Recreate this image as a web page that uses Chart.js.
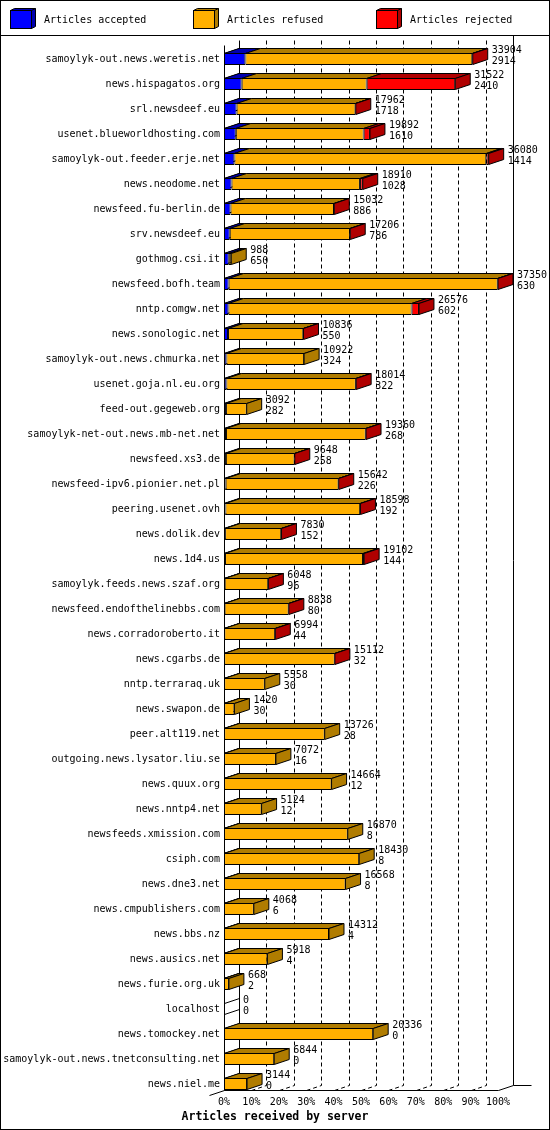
<!DOCTYPE html>
<html>
<head>
<meta charset="utf-8">
<title>Articles received by server</title>
<script src="https://cdn.jsdelivr.net/npm/chart.js@4.4.1/dist/chart.umd.min.js"></script>
<style>
  html, body { margin: 0; padding: 0; background: #fff; }
  canvas { display: block; }
</style>
</head>
<body>
<canvas id="myChart" width="550" height="1130"></canvas>
<script>

// DONNEES //

const servers = [
  'samoylyk-out.news.weretis.net', 'news.hispagatos.org', 'srl.newsdeef.eu',
  'usenet.blueworldhosting.com', 'samoylyk-out.feeder.erje.net', 'news.neodome.net',
  'newsfeed.fu-berlin.de', 'srv.newsdeef.eu', 'gothmog.csi.it', 'newsfeed.bofh.team',
  'nntp.comgw.net', 'news.sonologic.net', 'samoylyk-out.news.chmurka.net',
  'usenet.goja.nl.eu.org', 'feed-out.gegeweb.org', 'samoylyk-net-out.news.mb-net.net',
  'newsfeed.xs3.de', 'newsfeed-ipv6.pionier.net.pl', 'peering.usenet.ovh',
  'news.dolik.dev', 'news.1d4.us', 'samoylyk.feeds.news.szaf.org',
  'newsfeed.endofthelinebbs.com', 'news.corradoroberto.it', 'news.cgarbs.de',
  'nntp.terraraq.uk', 'news.swapon.de', 'peer.alt119.net', 'outgoing.news.lysator.liu.se',
  'news.quux.org', 'news.nntp4.net', 'newsfeeds.xmission.com', 'csiph.com',
  'news.dne3.net', 'news.cmpublishers.com', 'news.bbs.nz', 'news.ausics.net',
  'news.furie.org.uk', 'localhost', 'news.tomockey.net',
  'samoylyk-out.news.tnetconsulting.net', 'news.niel.me'
];

const totals = [
  33904, 31522, 17962, 19892, 36080, 18910, 15032, 17206, 988, 37350,
  26576, 10836, 10922, 18014, 3092, 19360, 9648, 15642, 18598, 7830,
  19102, 6048, 8838, 6994, 15112, 5558, 1420, 13726, 7072, 14664,
  5124, 16870, 18430, 16568, 4068, 14312, 5918, 668, 0, 20336,
  6844, 3144
];

const accepted = [
  2914, 2410, 1718, 1610, 1414, 1028, 886, 786, 650, 630,
  602, 550, 324, 322, 282, 268, 258, 226, 192, 152,
  144, 96, 80, 44, 32, 30, 30, 28, 16, 12,
  12, 8, 8, 8, 6, 4, 4, 2, 0, 0,
  0, 0
];

const refused = [
  30930, 17041, 16204, 17432, 34336, 17502, 14106, 16380, 338, 36680,
  24974, 10256, 10598, 17652, 2810, 19052, 9360, 15386, 18366, 7648,
  18808, 5932, 8728, 6930, 15060, 5528, 1390, 13698, 7056, 14652,
  5112, 16862, 18422, 16560, 4062, 14308, 5914, 666, 0, 20336,
  6844, 3144
];

const rejected = [
  60, 12071, 40, 850, 330, 380, 40, 40, 0, 40,
  1000, 30, 0, 40, 0, 40, 30, 30, 40, 30,
  150, 20, 30, 20, 20, 0, 0, 0, 0, 0,
  0, 0, 0, 0, 0, 0, 0, 0, 0, 0,
  0, 0
];

const percentTicks = [0, 10, 20, 30, 40, 50, 60, 70, 80, 90, 100];

const frontColors = ['#0000ff', '#ffb000', '#ff0000'];
const sideColors = ['#0000b0', '#b07c00', '#b00000'];

const maxTotal = Math.max(...totals);
const DX = 15;
const DY = 5;
const MONO = "'DejaVu Sans Mono', monospace";

Chart.defaults.font.family = MONO;
Chart.defaults.font.size = 10;
Chart.defaults.color = '#000';


// OUTILS DE DESSIN //

const line = (ctx, a, b, c, d) => {
  ctx.beginPath();
  ctx.moveTo(a, b);
  ctx.lineTo(c, d);
  ctx.stroke();
};

const poly = (ctx, pts, fill) => {
  ctx.beginPath();
  pts.forEach(([px, py], i) => i ? ctx.lineTo(px, py + 0.5) : ctx.moveTo(px, py + 0.5));
  ctx.closePath();
  ctx.fillStyle = fill;
  ctx.fill();
  ctx.stroke();
};


// MUR DU FOND, SOL ET GRILLE //

const wall3d = {
  id: 'wall3d',
  beforeDatasetsDraw(chart) {
    const { ctx, chartArea, scales: { x, y } } = chart;
    const bars = chart.getDatasetMeta(0).data;
    const half = bars[0].height / 2;
    const floor = Math.round(y.getPixelForValue(servers.length - 1) + half);
    const top = Math.round(chartArea.top - 1.5);
    const x0 = Math.round(x.getPixelForValue(0));
    const x1 = Math.round(x.getPixelForValue(maxTotal));

    ctx.save();
    ctx.translate(0.5, 0.5);
    ctx.strokeStyle = '#000';
    ctx.lineWidth = 1;

    ctx.setLineDash([4, 3]);
    percentTicks.slice(1, -1).forEach(p => {
      const gx = Math.round(x.getPixelForValue(maxTotal * p / 100));
      line(ctx, gx + DX, top - DY, gx + DX, floor - DY);
      line(ctx, gx, floor, gx + DX, floor - DY);
    });
    ctx.setLineDash([]);

    line(ctx, x0 + DX, top - DY, x0 + DX, floor - DY);
    line(ctx, x1 + DX, top - 2 * DY, x1 + DX, floor - DY);
    line(ctx, x0, top, x0, floor);
    line(ctx, x0 - DX, floor + DY, x0, floor);
    line(ctx, x0, floor, x1, floor);
    line(ctx, x1, floor, x1 + DX, floor - DY);
    line(ctx, x1 + DX, floor - DY, x1 + DX + 18, floor - DY);
    line(ctx, x0, floor, x0 + DX, floor - DY);

    // aretes gauches des barres (visibles quand la barre est vide)
    bars.forEach(bar => {
      const yT = Math.round(bar.y - half);
      const yB = Math.round(bar.y + half) - 1;
      line(ctx, x0, yT, x0 + DX, yT - DY);
      line(ctx, x0, yB, x0 + DX, yB - DY);
    });
    ctx.restore();
  }
};


// FACES 3D DES BARRES ET VALEURS //

const faces3d = {
  id: 'faces3d',
  afterDatasetsDraw(chart) {
    const { ctx } = chart;
    const datasets = chart.data.datasets;
    const metas = datasets.map((d, i) => chart.getDatasetMeta(i));

    ctx.save();
    ctx.strokeStyle = '#000';
    ctx.lineWidth = 1;

    servers.forEach((name, row) => {
      let last = -1;
      metas.forEach((meta, di) => {
        const bar = meta.data[row];
        const yT = bar.y - bar.height / 2;
        if (datasets[di].data[row] > 0) {
          poly(ctx, [[bar.base, yT], [bar.x, yT], [bar.x + DX, yT - DY], [bar.base + DX, yT - DY]], sideColors[di]);
          last = di;
        }
      });

      const endBar = metas[metas.length - 1].data[row];
      if (last >= 0) {
        const bar = metas[last].data[row];
        const yT = bar.y - bar.height / 2;
        const yB = bar.y + bar.height / 2 - 1;
        poly(ctx, [[bar.x, yT], [bar.x + DX, yT - DY], [bar.x + DX, yB - DY], [bar.x, yB]], sideColors[last]);
      }

      ctx.fillStyle = '#000';
      ctx.font = '10px ' + MONO;
      ctx.textAlign = 'left';
      ctx.textBaseline = 'middle';
      ctx.fillText(String(totals[row]), endBar.x + DX + 4, endBar.y - 9);
      ctx.fillText(String(accepted[row]), endBar.x + DX + 4, endBar.y + 2);
    });
    ctx.restore();
  }
};


// LEGENDE ET CADRE //

const legend3d = {
  id: 'legend3d',
  afterDraw(chart) {
    const { ctx, width, height } = chart;
    ctx.save();
    ctx.strokeStyle = '#000';
    ctx.lineWidth = 1;
    ctx.strokeRect(0.5, 0.5, width - 1, height - 1);
    line(ctx, 0, 35.5, width, 35.5);

    chart.data.datasets.forEach((ds, i) => {
      const bx = 10 + i * 183;
      const by = 10;
      const w = 21, h = 18, dx = 4, dy = 2;
      ctx.fillStyle = sideColors[i];
      ctx.beginPath();
      ctx.moveTo(bx + 0.5, by + 0.5);
      ctx.lineTo(bx + dx + 0.5, by - dy + 0.5);
      ctx.lineTo(bx + w + dx + 0.5, by - dy + 0.5);
      ctx.lineTo(bx + w + dx + 0.5, by + h - dy + 0.5);
      ctx.lineTo(bx + w + 0.5, by + h + 0.5);
      ctx.lineTo(bx + w + 0.5, by + 0.5);
      ctx.closePath();
      ctx.fill();
      ctx.stroke();
      ctx.fillStyle = frontColors[i];
      ctx.fillRect(bx + 0.5, by + 0.5, w, h);
      ctx.strokeRect(bx + 0.5, by + 0.5, w, h);
      line(ctx, bx + w + 0.5, by + 0.5, bx + w + dx + 0.5, by - dy + 0.5);

      ctx.fillStyle = '#000';
      ctx.font = '10px ' + MONO;
      ctx.textAlign = 'left';
      ctx.textBaseline = 'middle';
      ctx.fillText(ds.label, bx + 34, 20);
    });
    ctx.restore();
  }
};


// GRAPHIQUE //

const ctx = document.getElementById('myChart');

const makeDataset = (label, data, i) => ({
  label: label,
  data: data,
  backgroundColor: frontColors[i],
  borderColor: '#000',
  borderWidth: 1,
  borderSkipped: false,
  inflateAmount: 0,
  barThickness: 12,
  clip: false
});

new Chart(ctx, {
  type: 'bar',
  data: {
    labels: servers,
    datasets: [
      makeDataset('Articles accepted', accepted, 0),
      makeDataset('Articles refused', refused, 1),
      makeDataset('Articles rejected', rejected, 2)
    ]
  },
  options: {
    indexAxis: 'y',
    responsive: false,
    animation: false,
    devicePixelRatio: 1,
    events: [],
    layout: {
      padding: { top: 46.5, left: 0, right: 0, bottom: 0 }
    },
    scales: {
      x: {
        type: 'linear',
        stacked: true,
        min: 0,
        max: maxTotal,
        grid: { display: false, drawTicks: false },
        border: { display: false },
        afterBuildTicks: scale => {
          scale.ticks = percentTicks.map(p => ({ value: maxTotal * p / 100 }));
        },
        afterFit: scale => {
          scale.height = 13.7;
          scale.paddingLeft = 0;
          scale.paddingRight = 0;
        },
        ticks: {
          padding: 0,
          autoSkip: false,
          maxRotation: 0,
          color: '#000',
          callback: value => Math.round(value / maxTotal * 100) + '%'
        }
      },
      y: {
        stacked: true,
        grid: { display: false, drawTicks: false },
        border: { display: false },
        afterFit: scale => {
          scale.width = 224;
        },
        ticks: {
          padding: 4,
          autoSkip: false,
          color: '#000'
        }
      },
      // marge droite pour les valeurs (l'axe lui-meme reste invisible)
      yRight: {
        axis: 'y',
        position: 'right',
        grid: { display: false, drawTicks: false },
        border: { display: false },
        ticks: { display: false },
        afterFit: scale => {
          scale.width = 52;
        }
      }
    },
    plugins: {
      legend: false,
      tooltip: { enabled: false },
      title: {
        display: true,
        text: 'Articles received by server',
        position: 'bottom',
        color: '#000',
        font: { family: MONO, size: 11.5, weight: 'bold' },
        padding: { top: 0, bottom: 6 }
      }
    }
  },
  plugins: [wall3d, faces3d, legend3d]
});

</script>
</body>
</html>
